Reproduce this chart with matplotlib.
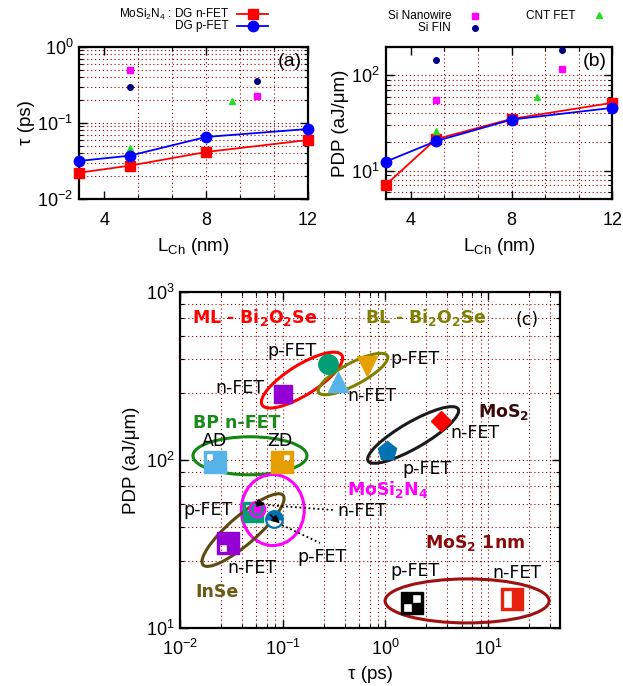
import numpy as np
import matplotlib
matplotlib.use("Agg")
import matplotlib.pyplot as plt
import matplotlib.ticker as mt
import matplotlib.transforms as mtrans
from matplotlib.path import Path
from matplotlib.patches import Ellipse
from matplotlib.lines import Line2D

# ---- panel (a) / (b) data: MoSi2N4 DG FETs vs channel length
lch = [3, 5, 8, 12]
tau_n = [0.0223, 0.0276, 0.0417, 0.0598]
tau_p = [0.0318, 0.0373, 0.0656, 0.0835]
pdp_n = [7.06, 21.4, 34.9, 51.5]
pdp_p = [12.4, 20.4, 34.3, 45.6]

# reference devices
ref_lch = [5, 10]
nw_tau = [0.50, 0.226]
fin_tau = [0.30, 0.355]
nw_pdp = [54.8, 118]
fin_pdp = [146, 185]
cnt_lch = [5, 9]
cnt_tau = [0.0476, 0.192]
cnt_pdp = [25.8, 58.6]

# ---- panel (c) data: PDP vs tau for 2D FETs
dev_names = ["ML n", "ML p", "BL n", "BL p", "MoS2 n", "MoS2 p", "BP AD", "BP ZD",
             "MoSi2N4 n", "MoSi2N4 p", "InSe p", "InSe n", "1nm p", "1nm n"]
dev_tau = [0.1007, 0.276, 0.344, 0.66, 3.47, 1.04, 0.0219, 0.0985,
           0.0562, 0.0822, 0.0518, 0.0294, 1.82, 17.0]
dev_pdp = [247, 373, 291, 363, 171, 113, 97, 97,
           51.4, 44.3, 49.0, 32.0, 14.1, 14.9]

plt.rcParams["font.family"] = "Liberation Sans"
plt.rcParams["mathtext.fontset"] = "custom"
plt.rcParams["mathtext.rm"] = "Liberation Sans"
plt.rcParams["mathtext.it"] = "Liberation Sans:italic"
plt.rcParams["mathtext.bf"] = "Liberation Sans:bold"

GRID = "#8b0000"
GRID_LS = (0, (1, 2.5))


def box_marker(holes):
    # filled square with white (empty) rectangles cut out
    verts = [(-1, -1), (1, -1), (1, 1), (-1, 1), (-1, -1)]
    codes = [Path.MOVETO] + [Path.LINETO] * 3 + [Path.CLOSEPOLY]
    for (x0, y0, x1, y1) in holes:
        verts += [(x0, y0), (x0, y1), (x1, y1), (x1, y0), (x0, y0)]
        codes += [Path.MOVETO] + [Path.LINETO] * 3 + [Path.CLOSEPOLY]
    return Path(verts, codes)


def style_axes(ax, fs=13, pad=7):
    for s in ax.spines.values():
        s.set_linewidth(1.6)
    ax.tick_params(which="both", direction="in", top=True, right=True, labelsize=fs)
    ax.tick_params(which="major", length=6, width=1.0, pad=pad)
    ax.tick_params(which="minor", length=3, width=0.8)
    ax.tick_params(axis="y", which="major", pad=4)
    ax.set_axisbelow(True)


def top_panel(ax, yn, yp, nw, fin, cnt, ylim, ylabel, tag):
    ax.set_xscale("linear")
    ax.set_yscale("log")
    ax.set_xlim(3, 12)
    ax.set_ylim(*ylim)
    ax.set_xticks([4, 8, 12])
    ax.xaxis.set_minor_locator(mt.FixedLocator([16 / 3, 20 / 3, 28 / 3, 32 / 3]))
    ax.yaxis.set_minor_locator(mt.LogLocator(base=10, subs=np.arange(2, 10)))
    ax.yaxis.set_minor_formatter(mt.NullFormatter())
    ax.grid(True, axis="y", which="both", color=GRID, ls=GRID_LS, lw=0.8)
    for gx in [16 / 3, 20 / 3, 8, 28 / 3, 32 / 3]:
        ax.axvline(gx, color=GRID, ls=GRID_LS, lw=0.8, zorder=0.5)
    style_axes(ax, pad=9)
    ax.plot(lch, yn, "-s", color="#ff0000", lw=1.3, ms=7, clip_on=False, zorder=4)
    ax.plot(lch, yp, "-o", color="#0000ff", lw=1.3, ms=7.5, clip_on=False, zorder=5)
    ax.plot(ref_lch, nw, "s", color="#ff00ff", ms=4, ls="none", zorder=4)
    ax.plot(ref_lch, fin, "o", color="#000080", ms=4, ls="none", zorder=4)
    ax.plot(cnt_lch, cnt, "^", color="#22dd22", ms=4, ls="none", zorder=4)
    ax.set_xlabel("L$_{\\rm Ch}$ (nm)", fontsize=13.5, labelpad=5)
    ax.set_ylabel(ylabel, fontsize=13.5, labelpad=2)
    ax.text(0.975, 0.9, tag, transform=ax.transAxes, ha="right", va="center", fontsize=14)


fig = plt.figure(figsize=(6.23, 6.86), dpi=100)

ax_a = fig.add_axes([0.1268, 0.7095, 0.3676, 0.2224])
top_panel(ax_a, tau_n, tau_p, nw_tau, fin_tau, cnt_tau, (0.01, 1), "τ (ps)", "(a)")
ax_b = fig.add_axes([0.619, 0.7095, 0.3637, 0.2224])
top_panel(ax_b, pdp_n, pdp_p, nw_pdp, fin_pdp, cnt_pdp, (5, 200), "PDP (aJ/μm)", "(b)")

# legends on top drawn by hand (gnuplot style: text then sample)
lfs = 8.5
fig.text(0.3676, 0.9796, "MoSi$_2$N$_4$ : DG n-FET", ha="right", va="center", fontsize=lfs)
fig.text(0.3676, 0.962, "DG p-FET", ha="right", va="center", fontsize=lfs)
fig.add_artist(Line2D([0.380, 0.430], [0.9796, 0.9796], transform=fig.transFigure,
                      color="#ff0000", lw=1.3))
fig.add_artist(Line2D([0.406], [0.9796], transform=fig.transFigure, color="#ff0000",
                      marker="s", ms=7, ls="none"))
fig.add_artist(Line2D([0.380, 0.430], [0.962, 0.962], transform=fig.transFigure,
                      color="#0000ff", lw=1.3))
fig.add_artist(Line2D([0.406], [0.962], transform=fig.transFigure, color="#0000ff",
                      marker="o", ms=7.5, ls="none"))
fig.text(0.724, 0.9767, "Si Nanowire", ha="right", va="center", fontsize=lfs)
fig.text(0.724, 0.959, "Si FIN", ha="right", va="center", fontsize=lfs)
fig.text(0.923, 0.9767, "CNT FET", ha="right", va="center", fontsize=lfs)
fig.add_artist(Line2D([0.7624], [0.9767], transform=fig.transFigure, color="#ff00ff",
                      marker="s", ms=4, ls="none"))
fig.add_artist(Line2D([0.7624], [0.959], transform=fig.transFigure, color="#000080",
                      marker="o", ms=4, ls="none"))
fig.add_artist(Line2D([0.9615], [0.978], transform=fig.transFigure, color="#22dd22",
                      marker="^", ms=4, ls="none"))

# ---- panel (c)
ax = fig.add_axes([0.2889, 0.0845, 0.610, 0.4898])
ax.set_xscale("log")
ax.set_yscale("log")
ax.set_xlim(0.01, 50)
ax.set_ylim(10, 1000)
sub = [2.5, 4, 5.5, 7, 8.5]
ax.xaxis.set_minor_locator(mt.LogLocator(base=10, subs=sub))
ax.yaxis.set_minor_locator(mt.LogLocator(base=10, subs=sub))
ax.xaxis.set_minor_formatter(mt.NullFormatter())
ax.yaxis.set_minor_formatter(mt.NullFormatter())
ax.grid(True, which="both", color=GRID, ls=GRID_LS, lw=0.8)
style_axes(ax, pad=8)
ax.set_xlabel("τ (ps)", fontsize=13.5, labelpad=5)
ax.set_ylabel("PDP (aJ/μm)", fontsize=13.5, labelpad=4)


def ring(x, y, w, h, ang, color, lw=2.2):
    tr = fig.dpi_scale_trans + mtrans.ScaledTranslation(x, y, ax.transData)
    ax.add_patch(Ellipse((0, 0), w / 100, h / 100, angle=ang, transform=tr,
                         fill=False, ec=color, lw=lw, zorder=3))


ring(0.154, 299, 94, 30, 32, "#ff0000")
ring(0.483, 325, 78, 22, 28, "#808000")
ring(1.86, 141, 104, 26, 30, "#1a1a1a")
ring(0.048, 106, 114, 38, 0, "#118811")
ring(0.080, 50.4, 63, 71, 0, "#ff00ff")
ring(0.0411, 38.3, 106, 28, 41, "#5c4a10")
ring(6.23, 14.5, 164, 44, 0, "#a01010")

m_ul = box_marker([(-0.8, 0.05, -0.15, 0.8)])
m_ur = box_marker([(0.1, 0.05, 0.75, 0.75)])
m_ll = box_marker([(-0.8, -0.8, -0.1, -0.1)])
m_chk = box_marker([(0.0, 0.0, 0.82, 0.82), (-0.82, -0.82, 0.0, 0.0)])
m_half = box_marker([(-0.78, -0.8, 0.0, 0.8)])

styles = [
    dict(marker="s", color="#9400d3", ms=13),
    dict(marker="o", color="#009e73", ms=14),
    dict(marker="^", color="#56b4e9", ms=14),
    dict(marker="v", color="#e69f00", ms=14),
    dict(marker="D", color="#ff0000", ms=10.5),
    dict(marker="p", color="#0072b2", ms=14),
    dict(marker=m_ul, color="#56b4e9", ms=16),
    dict(marker=m_ur, color="#e69f00", ms=16),
    dict(marker="o", color="#ff00ff", ms=11, fillstyle="none", mew=1.8),
    dict(marker="o", color="#0072b2", ms=12, fillstyle="top",
         markerfacecoloralt="white", mew=1.6),
    dict(marker=m_ul, color="#009e73", ms=15),
    dict(marker=m_ll, color="#9400d3", ms=16),
    dict(marker=m_chk, color="black", ms=16),
    dict(marker=m_half, color="#e8200e", ms=16),
]
zs = [4, 4, 4, 4, 4, 4, 4, 4, 5, 5, 4, 4, 4, 4]
for t, p, st, z in zip(dev_tau, dev_pdp, styles, zs):
    ax.plot([t], [p], ls="none", zorder=z, **st)
# small filled mark inside the MoSi2N4 n-FET ring
ax.plot(dev_tau[8:9], dev_pdp[8:9], ls="none", marker="s", color="#ff00ff", ms=5, zorder=5)

# arrows to the MoSi2N4 points
ax.plot([0.0719, 0.309], [53.9, 50.4], ls=(0, (1, 1.5)), color="k", lw=1.3, zorder=5)
ax.plot([0.0985, 0.2307], [41.0, 32.1], ls=(0, (1, 1.5)), color="k", lw=1.3, zorder=5)
ax.annotate("", xy=(0.0719, 53.9), xytext=(0.0514, 56.2),
            arrowprops=dict(arrowstyle="-|>", color="k", lw=1.2, mutation_scale=11), zorder=6)
ax.annotate("", xy=(0.0985, 41.0), xytext=(0.0719, 48.4),
            arrowprops=dict(arrowstyle="-|>", color="k", lw=1.2, mutation_scale=11), zorder=6)

tf = "DejaVu Sans"
labels = [
    ("ML - Bi$_\\mathbf{2}$O$_\\mathbf{2}$Se", 0.0131, 710, "#ff0000", True),
    ("BL - Bi$_\\mathbf{2}$O$_\\mathbf{2}$Se", 0.633, 710, "#808000", True),
    ("(c)", 18.3, 681, "black", False),
    ("p-FET", 0.0703, 446, "black", False),
    ("n-FET", 0.0219, 268, "black", False),
    ("n-FET", 0.423, 240, "black", False),
    ("p-FET", 1.11, 399, "black", False),
    ("MoS$_\\mathbf{2}$", 7.98, 193, "#3a0808", True),
    ("n-FET", 4.26, 145, "black", False),
    ("p-FET", 1.45, 88.3, "black", False),
    ("BP n-FET", 0.0134, 166, "#1a8a1a", True),
    ("AD", 0.0164, 130, "black", False),
    ("ZD", 0.0703, 130, "black", False),
    ("MoSi$_\\mathbf{2}$N$_\\mathbf{4}$", 0.423, 67.1, "#ff00ff", True),
    ("n-FET", 0.338, 49.7, "black", False),
    ("p-FET", 0.138, 26.5, "black", False),
    ("p-FET", 0.0107, 50.4, "black", False),
    ("n-FET", 0.0287, 22.8, "black", False),
    ("InSe", 0.0140, 16.4, "#6b5a14", True),
    ("MoS$_\\mathbf{2}$ 1nm", 2.43, 32.1, "#8b0a0a", True),
    ("p-FET", 1.11, 21.8, "black", False),
    ("n-FET", 10.9, 21.2, "black", False),
]
for txt, x, y, c, b in labels:
    ax.text(x, y, txt, color=c, fontsize=12.5, family=tf, math_fontfamily="dejavusans",
            fontweight="bold" if b else "normal", ha="left", va="center", zorder=7)

plt.savefig("out.png", dpi=100)
